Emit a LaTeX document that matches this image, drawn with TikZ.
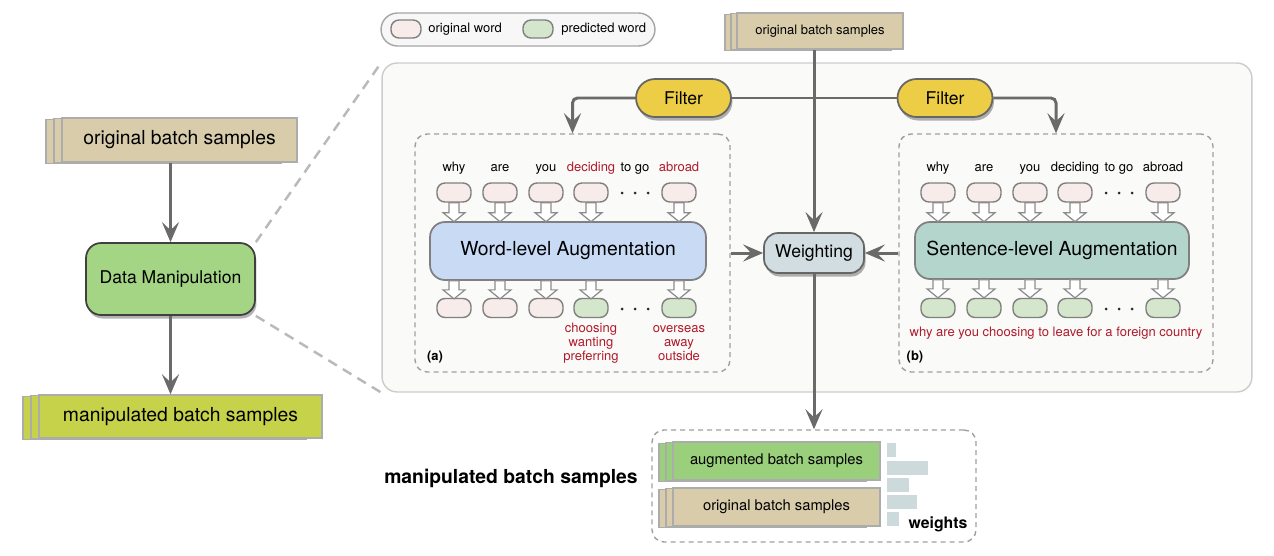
\documentclass[tikz,border=0pt]{standalone}
\usepackage{fontspec}
\setmainfont{TeX Gyre Heros}
\usepackage{tikz}
\usetikzlibrary{arrows.meta,shadows}

\definecolor{tanbox}{HTML}{D8CCAB}
\definecolor{dmgreen}{HTML}{A3D585}
\definecolor{olivebox}{HTML}{C6D24A}
\definecolor{filteryellow}{HTML}{ECCD45}
\definecolor{wordblue}{HTML}{C9DAF5}
\definecolor{sentteal}{HTML}{B3D5CC}
\definecolor{weightgray}{HTML}{D1DDE0}
\definecolor{origpink}{HTML}{F8ECEA}
\definecolor{predgreen}{HTML}{D4E6CC}
\definecolor{auggreen}{HTML}{9ACF7B}
\definecolor{wordred}{HTML}{B0192B}
\definecolor{panelfill}{HTML}{FAFBF8}
\definecolor{linegray}{HTML}{6A6A6A}
\definecolor{bargray}{HTML}{CCDADB}

\tikzset{
  every node/.style={inner sep=0pt},
  small/.style={font=\fontsize{7.4}{8}\selectfont},
  big/.style={font=\fontsize{11}{13}\selectfont},
  conn/.style={draw=linegray, line width=1.7pt, -{Stealth[length=0.4cm,width=0.34cm,inset=0.16cm]}},
  plainline/.style={draw=linegray, line width=1.7pt},
  zoomline/.style={draw=gray!55, line width=1.4pt, dash pattern=on 0.2cm off 0.14cm},
  stack/.style={draw=gray!65, line width=0.8pt,
    copy shadow={shadow xshift=-2*#1, shadow yshift=-0.03cm},
    copy shadow={shadow xshift=-#1, shadow yshift=-0.015cm}},
  stack/.default=0.16cm,
  soft/.style={drop shadow={shadow xshift=0.03cm, shadow yshift=-0.07cm, opacity=0.3, fill=black}},
  filterbox/.style={draw=gray!80!black, line width=1pt, fill=filteryellow, soft, rounded corners=0.38cm,
    minimum width=1.9cm, minimum height=0.76cm, font=\fontsize{10}{12}\selectfont},
  dashbox/.style={draw=gray!75, line width=0.8pt, dash pattern=on 0.1cm off 0.08cm, rounded corners=0.24cm},
  augbox/.style={draw=gray, line width=1pt, rounded corners=0.3cm, minimum height=1.16cm, big},
  wordbox/.style={draw=gray, line width=0.8pt, rounded corners=0.16cm, minimum width=0.68cm, minimum height=0.38cm},
  origword/.style={wordbox, fill=origpink},
  predword/.style={wordbox, fill=predgreen},
  hollow/.style={draw=gray!90, line width=0.7pt, fill=white},
  redlabel/.style={small, text=wordred, align=center}
}

\begin{document}
\begin{tikzpicture}[x=0.02cm, y=-0.02cm]
\useasboundingbox (0,0) rectangle (1274,555);

% left column
\node[stack, fill=tanbox, big, minimum width=4.7cm, minimum height=0.88cm] (lorig) at (179.5,140) {original batch samples};
\node[draw=gray!50!black, line width=1pt, fill=dmgreen, soft, rounded corners=0.3cm,
      minimum width=3.38cm, minimum height=1.44cm, font=\fontsize{10}{12}\selectfont] (dm) at (170.5,279) {Data Manipulation};
\node[stack, fill=olivebox, big, minimum width=5.66cm, minimum height=0.86cm] (lman) at (180.5,416.5) {manipulated batch samples};
\draw[conn] (dm.north |- lorig.south) -- (dm.north);
\draw[conn] (dm.south) -- (dm.south |- lman.north);

% zoomed panel
\node[draw=gray!40, line width=0.8pt, fill=panelfill, rounded corners=0.3cm,
      minimum width=17.4cm, minimum height=6.58cm] (panel) at (817,227.5) {};
\draw[zoomline] (dm.north east) -- (panel.north west);
\draw[zoomline] (dm.south east) -- (panel.south west);

% legend
\node[draw=gray!70, line width=0.8pt, fill=white!97!black, rounded corners=0.33cm,
      minimum width=5.48cm, minimum height=0.66cm] (legend) at (518,29.5) {};
\node[origword, minimum width=0.6cm, minimum height=0.36cm] (lgorig) at (406,29) {};
\node[small, anchor=west] (lgorigtxt) at (428,29) {original word};
\node[predword, minimum width=0.6cm, minimum height=0.36cm] (lgpred) at (538,29) {};
\node[small, anchor=west] (lgpredtxt) at (561,29) {predicted word};

% input and filters
\node[stack=0.12cm, fill=tanbox, small, minimum width=3.32cm, minimum height=0.72cm] (tsrc) at (820,31) {original batch samples};
\node[filterbox] (fltw) at (683.5,98) {Filter};
\node[filterbox] (flts) at (945,98) {Filter};

\node[dashbox, minimum width=6.3cm, minimum height=4.76cm] (wbox) at (572.5,253) {};
\node[dashbox, minimum width=6.28cm, minimum height=4.76cm] (sbox) at (1056,253) {};
\node[dashbox, minimum width=6.48cm, minimum height=2.24cm] (mbox) at (814,486) {};

\node[draw=gray!80!black, line width=1pt, fill=weightgray, soft, rounded corners=0.28cm,
      minimum width=2cm, minimum height=0.8cm, font=\fontsize{10}{12}\selectfont] (wgt) at (814,253) {Weighting};

\draw[conn] (wgt.north |- tsrc.south) -- (wgt.north);
\draw[plainline] (fltw.east) -- (flts.west);
\draw[conn, rounded corners=0.1cm] (fltw.west) -| (wbox.north);
\draw[conn, rounded corners=0.1cm] (flts.east) -| (sbox.north);
\draw[conn] (wbox.east |- wgt.west) -- (wgt.west);
\draw[conn] (sbox.west |- wgt.east) -- (wgt.east);
\draw[conn] (wgt.south) -- (mbox.north);

% (a) word-level
\node[augbox, fill=wordblue, minimum width=5.52cm] (wla) at (568,251) {Word-level Augmentation};
\foreach \x/\w/\c in {454/why/black, 500/are/black, 546/you/black, 591/deciding/wordred, 635/to go/black, 679/abroad/wordred}
  \node[small, text=\c, anchor=base] at (\x,171) {\w};
\foreach \x [count=\i] in {454,500,546,591,679} {
  \node[origword] (wt\i) at (\x,192.5) {};
}
\foreach \x/\s [count=\i] in {454/origword,500/origword,546/origword,591/predword,679/predword} {
  \node[\s] (wb\i) at (\x,308) {};
}
\foreach \i in {1,...,5} {
  \draw[hollow] (wt\i.south) ++(-5,0) -- ++(0,10) -- ++(-6,0) -- ++(11,9) -- ++(11,-9) -- ++(-6,0) -- ++(0,-10) -- cycle;
  \draw[hollow] (wb\i.north |- wla.south) ++(-5,0) -- ++(0,9) -- ++(-6,0) -- ++(11,9) -- ++(11,-9) -- ++(-6,0) -- ++(0,-9) -- cycle;
}
\foreach \d in {-13,0,13} {
  \fill[black!85] (635+\d,193) circle (0.03cm);
  \fill[black!85] (635+\d,309) circle (0.03cm);
}
\node[redlabel] (alt4) at (591,343) {choosing\\wanting\\preferring};
\node[redlabel] (alt5) at (679,343) {overseas\\away\\outside};
\node[small, font=\fontsize{7.4}{8}\selectfont\bfseries] (taga) at (435,357) {(a)};

% (b) sentence-level
\node[augbox, fill=sentteal, minimum width=5.48cm, minimum height=1.14cm] (sla) at (1052,250.5) {Sentence-level Augmentation};
\foreach \x/\w in {938/why, 984/are, 1030/you, 1075/deciding, 1119/to go, 1163/abroad}
  \node[small, anchor=base] at (\x,171) {\w};
\foreach \x [count=\i] in {938,984,1030,1075,1163} {
  \node[origword] (st\i) at (\x,192.5) {};
  \node[predword] (sb\i) at (\x,308) {};
}
\foreach \i in {1,...,5} {
  \draw[hollow] (st\i.south) ++(-5,0) -- ++(0,10) -- ++(-6,0) -- ++(11,9) -- ++(11,-9) -- ++(-6,0) -- ++(0,-10) -- cycle;
  \draw[hollow] (sb\i.north |- sla.south) ++(-5,0) -- ++(0,9) -- ++(-6,0) -- ++(11,9) -- ++(11,-9) -- ++(-6,0) -- ++(0,-9) -- cycle;
}
\foreach \d in {-13,0,13} {
  \fill[black!85] (1119+\d,193) circle (0.03cm);
  \fill[black!85] (1119+\d,309) circle (0.03cm);
}
\node[redlabel] (newsent) at (1056,333) {why are you choosing to leave for a foreign country};
\node[font=\fontsize{7.4}{8}\selectfont\bfseries] (tagb) at (915,357) {(b)};

% manipulated batch
\node[font=\fontsize{11}{13}\selectfont\bfseries] (mlabel) at (511,478) {manipulated batch samples};
\node[stack=0.14cm, fill=auggreen, font=\fontsize{8.4}{10}\selectfont, minimum width=4.14cm, minimum height=0.76cm] (augs) at (776.5,461) {augmented batch samples};
\node[stack=0.14cm, fill=tanbox, font=\fontsize{8.4}{10}\selectfont, minimum width=4.14cm, minimum height=0.76cm] (origs) at (776.5,507) {original batch samples};
\foreach \y/\w in {443/9, 461/41, 478/22, 495/30, 512/12}
  \fill[bargray] (887,\y) rectangle ++(\w,14);
\node[font=\fontsize{9}{11}\selectfont\bfseries] (wlabel) at (938,524) {weights};
\end{tikzpicture}
\end{document}
